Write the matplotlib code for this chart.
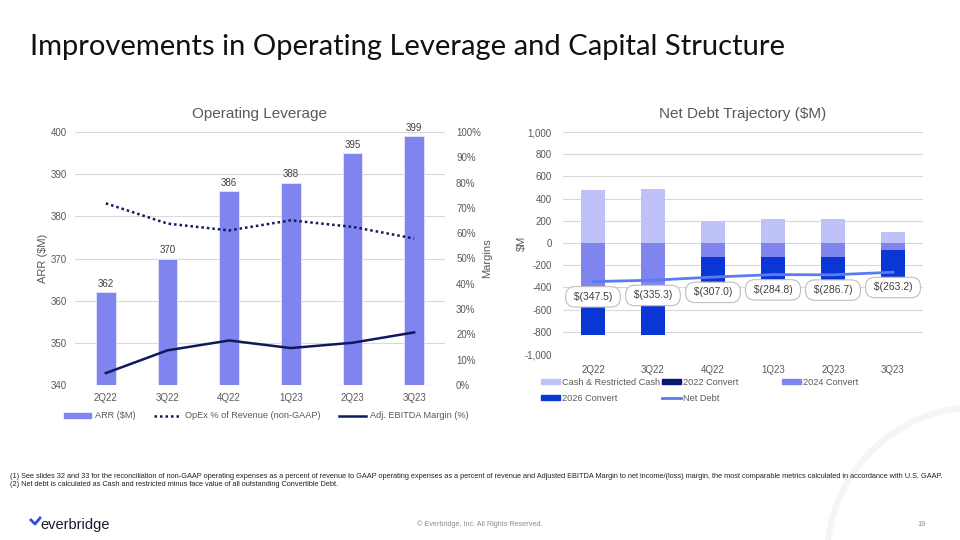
import numpy as np
import matplotlib
matplotlib.use("Agg")
import matplotlib.pyplot as plt
from matplotlib.patches import Patch, Circle
from matplotlib.lines import Line2D
from matplotlib.ticker import FuncFormatter

plt.rcParams['font.family'] = ['Liberation Sans', 'DejaVu Sans']

quarters = ["2Q22", "3Q22", "4Q22", "1Q23", "2Q23", "3Q23"]

# operating leverage
arr = [362, 370, 386, 388, 395, 399]
opex_pct = [71.8, 63.8, 61.1, 65.1, 62.5, 57.9]
ebitda_pct = [4.7, 13.7, 17.6, 14.6, 16.7, 20.8]

# net debt trajectory
cash = [477.5, 489.7, 198.0, 220.2, 218.3, 100.0]
conv_2022 = [0, 0, 0, 0, 0, 0]
conv_2024 = [-450, -450, -130, -130, -130, -63]
conv_2026 = [-375, -375, -375, -375, -375, -300]
net_debt = [-347.5, -335.3, -307.0, -284.8, -286.7, -263.2]

grey_txt = "#595959"
grid_c = "#D9D9D9"
bar_c = "#7F84EE"
navy = "#0E1A5C"
c_cash = "#BFC2F7"
c_2022 = "#0B1673"
c_2026 = "#0B36D6"
c_net = "#5A7CF0"

fig = plt.figure(figsize=(9.6, 5.4), dpi=100)
W, H = 960, 540

def fx(px):
    return px / W

def fy(py):
    return 1 - py / H

# faint decorative arc
bg = fig.add_axes([0, 0, 1, 1], zorder=-1)
bg.set_xlim(0, W)
bg.set_ylim(H, 0)
bg.axis("off")
bg.add_patch(Circle((978, 558), 151, fill=False, ec="#F5F5F5", lw=4.5))

# slide title
fig.text(fx(30), fy(47), "Improvements in Operating Leverage and Capital Structure",
         family=['Lato', 'DejaVu Sans'], fontsize=21, color="#111111", va="center", ha="left")

# ---- left chart ----
x = np.arange(len(quarters))
ax1 = fig.add_axes([fx(75), fy(385), fx(370), (385 - 132) / H])
ax1.bar(x, [a - 340 for a in arr], bottom=340, width=0.32, color=bar_c, edgecolor="#E6E7FB", linewidth=0.6, zorder=2)
for i, a in enumerate(arr):
    ax1.text(i, a + 0.8, str(a), ha="center", va="bottom", fontsize=7, color="#404040")
ax1.set_ylim(340, 400)
ax1.set_xlim(-0.5, 5.5)
ax1.set_yticks(range(340, 401, 10))
ax1.set_xticks(x)
ax1.set_xticklabels(quarters)
ax1.grid(axis="y", color=grid_c, linewidth=0.8, zorder=0)
ax1.set_axisbelow(True)
for s in ax1.spines.values():
    s.set_visible(False)
ax1.tick_params(length=0, labelsize=7, colors=grey_txt, pad=6)
ax1.set_ylabel("ARR ($M)", fontsize=8, color=grey_txt, labelpad=1.5)
ax1.set_title("Operating Leverage", fontsize=11, color=grey_txt, pad=10)

ax2 = ax1.twinx()
ax2.plot(x, opex_pct, color=navy, linestyle=(0, (1, 1.2)), linewidth=1.8, zorder=3)
ax2.plot(x, ebitda_pct, color=navy, linewidth=1.8, zorder=3)
ax2.set_ylim(0, 100)
ax2.set_yticks(range(0, 101, 10))
ax2.yaxis.set_major_formatter(FuncFormatter(lambda v, p: f"{int(v)}%"))
for s in ax2.spines.values():
    s.set_visible(False)
ax2.tick_params(length=0, labelsize=7, colors=grey_txt, pad=8)
ax2.set_ylabel("Margins", fontsize=8, color=grey_txt, labelpad=1)

h1 = [Patch(color=bar_c), Line2D([], [], color=navy, linestyle=(0, (1, 1.2)), linewidth=1.8),
      Line2D([], [], color=navy, linewidth=1.8)]
leg1 = ax1.legend(h1, ["ARR ($M)", "OpEx % of Revenue (non-GAAP)", "Adj. EBITDA Margin (%)"],
                  loc="center", bbox_to_anchor=(fx(266), fy(416)), bbox_transform=fig.transFigure,
                  ncol=3, frameon=False, fontsize=6.6, handlelength=3.0, handleheight=0.5,
                  columnspacing=2.0, handletextpad=0.4, borderpad=0)
for t in leg1.get_texts():
    t.set_color(grey_txt)

# ---- right chart ----
ax3 = fig.add_axes([fx(563), fy(354), fx(360), (354 - 132) / H])
bw = 0.4
ax3.bar(x, cash, width=bw, color=c_cash, zorder=2)
ax3.bar(x, conv_2022, width=bw, color=c_2022, zorder=2)
ax3.bar(x, conv_2024, width=bw, color=bar_c, zorder=2)
ax3.bar(x, conv_2026, width=bw, bottom=conv_2024, color=c_2026, zorder=2)
ax3.plot(x, net_debt, color=c_net, linewidth=2, zorder=3)
for i, v in enumerate(net_debt):
    ax3.annotate(f" $({abs(v):.1f}) ", (i, v), xytext=(0, -11), textcoords="offset points",
                 ha="center", va="center", fontsize=7.5, color="#404040", zorder=5,
                 bbox=dict(boxstyle="round,pad=0.5,rounding_size=0.9", fc="white", ec="#BFBFBF", lw=0.8))
ax3.set_ylim(-1000, 1000)
ax3.set_xlim(-0.5, 5.5)
ax3.set_yticks(range(-1000, 1001, 200))
ax3.yaxis.set_major_formatter(FuncFormatter(lambda v, p: f"{int(v):,}"))
ax3.set_xticks(x)
ax3.set_xticklabels(quarters)
ax3.grid(axis="y", color=grid_c, linewidth=0.8, zorder=0)
ax3.set_axisbelow(True)
for s in ax3.spines.values():
    s.set_visible(False)
ax3.tick_params(length=0, labelsize=7, colors=grey_txt, pad=8)
ax3.set_ylabel("$M", fontsize=8, color=grey_txt, labelpad=-2)
ax3.set_title("Net Debt Trajectory ($M)", fontsize=11, color=grey_txt, pad=10)

# right legend in three fixed columns
cols = [
    ([Patch(color=c_cash), Patch(color=c_2026)], ["Cash & Restricted Cash", "2026 Convert"], 541),
    ([Patch(color=c_2022), Line2D([], [], color=c_net, linewidth=2)], ["2022 Convert", "Net Debt"], 662),
    ([Patch(color=bar_c)], ["2024 Convert"], 782),
]
for hs, ls, px in cols:
    lg = fig.legend(hs, ls, loc="upper left", bbox_to_anchor=(fx(px), fy(378)),
                    frameon=False, fontsize=6.6, handlelength=2.1, handleheight=0.5,
                    handletextpad=0.2, labelspacing=0.75, borderpad=0, borderaxespad=0)
    for t in lg.get_texts():
        t.set_color(grey_txt)

# footnotes
fn = ["(1) See slides 32 and 33 for the reconciliation of non-GAAP operating expenses as a percent of revenue to GAAP operating expenses as a percent of revenue and Adjusted EBITDA Margin to net income/(loss) margin, the most comparable metrics calculated in accordance with U.S. GAAP.",
      "(2) Net debt is calculated as Cash and restricted minus face value of all outstanding Convertible Debt."]
fig.text(fx(10), fy(476), fn[0], fontsize=5.35, color="#222222", va="center")
fig.text(fx(10), fy(485), fn[1], fontsize=5.35, color="#222222", va="center")

# footer
fig.text(fx(480), fy(524), "\u00a9 Everbridge, Inc. All Rights Reserved.", fontsize=5.2, color="#8C8C8C",
         ha="center", va="center")
fig.text(fx(922), fy(524), "19", fontsize=5.2, color="#8C8C8C", ha="center", va="center")
fig.text(fx(40), fy(525), "everbridge", fontsize=10.5, color="#1A1A2E", ha="left", va="center")
fig.add_artist(Line2D([fx(31), fx(35), fx(40)], [fy(520), fy(524), fy(518)], color="#2F4BE0",
                      linewidth=2, transform=fig.transFigure))

fig.savefig("out.png", dpi=100)
